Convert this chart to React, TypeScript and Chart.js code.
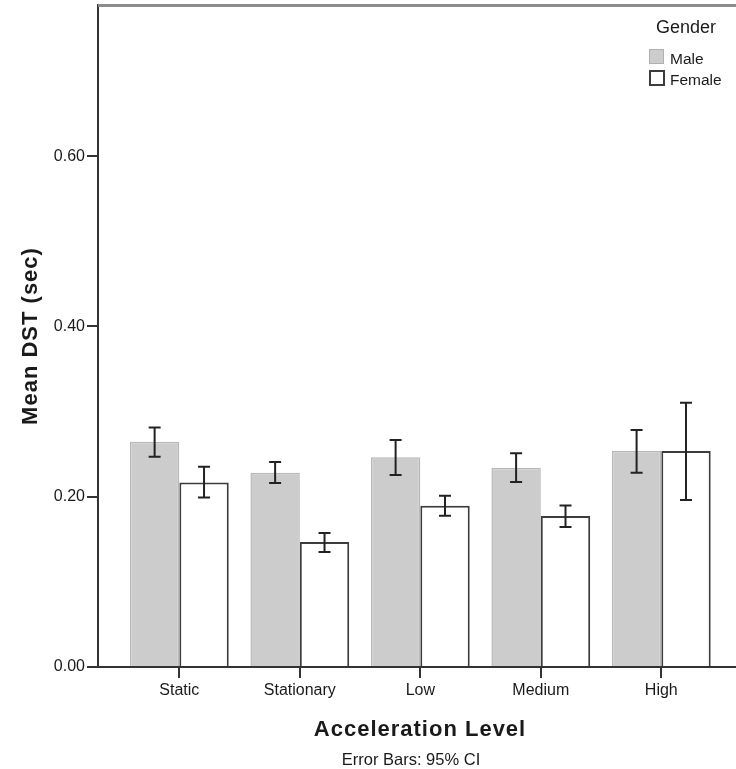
import React, { useEffect, useRef } from "react";
import { Chart, registerables } from "chart.js";

Chart.register(...registerables);

const categories = ["Static", "Stationary", "Low", "Medium", "High"];
const maleMeans = [0.2646, 0.2282, 0.2462, 0.2341, 0.2537];
const maleHigh = [0.2814, 0.2407, 0.2666, 0.2509, 0.2783];
const maleLow = [0.247, 0.2161, 0.2255, 0.2173, 0.2282];
const femaleMeans = [0.2168, 0.1468, 0.1894, 0.1773, 0.2537];
const femaleHigh = [0.2352, 0.1574, 0.2012, 0.1898, 0.3104];
const femaleLow = [0.1992, 0.1351, 0.1777, 0.1644, 0.1961];
const yTickValues = [0, 0.2, 0.4, 0.6];
const seriesNames = ["Male", "Female"];

const FONT = "'Liberation Sans', Arial, Helvetica, sans-serif";
const TEXT = "#1a1a1a";

export default function App() {
  const ref = useRef<HTMLCanvasElement | null>(null);

  useEffect(() => {
    if (!ref.current) return;
    const highs = [maleHigh, femaleHigh];
    const lows = [maleLow, femaleLow];

    const errorBars = {
      id: "errorBars",
      afterDatasetsDraw(chart: any) {
        const ctx = chart.ctx;
        const ys = chart.scales.y;
        ctx.save();
        ctx.strokeStyle = "#222";
        ctx.lineWidth = 2;
        chart.data.datasets.forEach((_: any, di: number) => {
          const meta = chart.getDatasetMeta(di);
          meta.data.forEach((el: any, j: number) => {
            const x = el.x;
            const yh = ys.getPixelForValue(highs[di][j]);
            const yl = ys.getPixelForValue(lows[di][j]);
            ctx.beginPath();
            ctx.moveTo(x, yh);
            ctx.lineTo(x, yl);
            ctx.moveTo(x - 6, yh);
            ctx.lineTo(x + 6, yh);
            ctx.moveTo(x - 6, yl);
            ctx.lineTo(x + 6, yl);
            ctx.stroke();
          });
        });
        ctx.restore();
      },
    };

    const decor = {
      id: "decor",
      afterDraw(chart: any) {
        const ctx = chart.ctx;
        const a = chart.chartArea;
        ctx.save();
        // top frame line
        ctx.strokeStyle = "#8c8c8c";
        ctx.lineWidth = 3;
        ctx.beginPath();
        ctx.moveTo(a.left, a.top + 0.5);
        ctx.lineTo(a.right, a.top + 0.5);
        ctx.stroke();

        ctx.fillStyle = TEXT;
        // y title
        ctx.save();
        ctx.translate(37, (a.top + a.bottom) / 2);
        ctx.rotate(-Math.PI / 2);
        ctx.font = `bold 22px ${FONT}`;
        (ctx as any).letterSpacing = "1px";
        ctx.textAlign = "center";
        ctx.textBaseline = "alphabetic";
        ctx.fillText("Mean DST (sec)", 0, 0);
        ctx.restore();

        // x title
        ctx.save();
        ctx.font = `bold 22px ${FONT}`;
        (ctx as any).letterSpacing = "1px";
        ctx.textAlign = "center";
        ctx.textBaseline = "alphabetic";
        ctx.fillText("Acceleration Level", 420, 736);
        ctx.restore();

        // footnote
        ctx.font = `16.5px ${FONT}`;
        ctx.textAlign = "center";
        ctx.textBaseline = "alphabetic";
        ctx.fillText("Error Bars: 95% CI", 411, 765);

        // legend
        ctx.textAlign = "left";
        ctx.font = `18px ${FONT}`;
        ctx.fillText("Gender", 656, 33);
        ctx.font = `15.5px ${FONT}`;
        ctx.fillStyle = "#cccccc";
        ctx.fillRect(649, 49, 15, 15);
        ctx.strokeStyle = "#b0b0b0";
        ctx.lineWidth = 1;
        ctx.strokeRect(649.5, 49.5, 14, 14);
        ctx.fillStyle = "#ffffff";
        ctx.fillRect(650, 71, 14, 14);
        ctx.strokeStyle = "#3c3c3c";
        ctx.lineWidth = 2;
        ctx.strokeRect(650, 71, 14, 14);
        ctx.fillStyle = TEXT;
        ctx.fillText(seriesNames[0], 670, 64);
        ctx.fillText(seriesNames[1], 670, 85);
        ctx.restore();
      },
    };

    const chart = new Chart(ref.current, {
      type: "bar",
      data: {
        datasets: [
          {
            label: seriesNames[0],
            data: maleMeans.map((v, i) => ({ x: i, y: v })),
            backgroundColor: "#cccccc",
            borderColor: "#b8b8b8",
            borderWidth: 1.5,
            categoryPercentage: 0.82,
            barPercentage: 1,
          },
          {
            label: seriesNames[1],
            data: femaleMeans.map((v, i) => ({ x: i, y: v })),
            backgroundColor: "#ffffff",
            borderColor: "#3c3c3c",
            borderWidth: 2,
            categoryPercentage: 0.82,
            barPercentage: 1,
          },
        ],
      } as any,
      options: {
        animation: false,
        responsive: false,
        layout: { padding: { top: 5, left: 0, right: 0, bottom: 0 } },
        plugins: { legend: { display: false }, tooltip: { enabled: false } },
        scales: {
          x: {
            type: "linear",
            min: -0.675,
            max: 4.62,
            offset: false,
            afterFit: (s: any) => {
              s.height = 102;
              s.paddingLeft = 0;
              s.paddingRight = 0;
            },
            afterBuildTicks: (s: any) => {
              s.ticks = categories.map((_, i) => ({ value: i }));
            },
            ticks: {
              callback: (v: any) => categories[Math.round(Number(v))] ?? "",
              font: { family: FONT, size: 16 },
              color: TEXT,
              padding: 3,
              maxRotation: 0,
              autoSkip: false,
            },
            grid: {
              offset: false,
              drawOnChartArea: false,
              drawTicks: true,
              tickLength: 11,
              color: "#333",
              lineWidth: 2,
            },
            border: { display: true, color: "#333", width: 2 },
          },
          y: {
            type: "linear",
            min: 0,
            max: 0.7775,
            afterFit: (s: any) => {
              s.width = 98;
              s.paddingTop = 0;
              s.paddingBottom = 0;
            },
            afterBuildTicks: (s: any) => {
              s.ticks = yTickValues.map((v) => ({ value: v }));
            },
            ticks: {
              callback: (v: any) => Number(v).toFixed(2),
              font: { family: FONT, size: 16 },
              color: TEXT,
              padding: 2,
            },
            grid: {
              drawOnChartArea: false,
              drawTicks: true,
              tickLength: 11,
              color: "#333",
              lineWidth: 2,
            },
            border: { display: true, color: "#333", width: 2 },
          },
        },
      },
      plugins: [errorBars, decor],
    } as any);

    return () => chart.destroy();
  }, []);

  return (
    <div style={{ position: "absolute", left: 0, top: 0, width: 736, height: 769, background: "#fff" }}>
      <canvas ref={ref} width={736} height={769} style={{ display: "block" }} />
    </div>
  );
}
